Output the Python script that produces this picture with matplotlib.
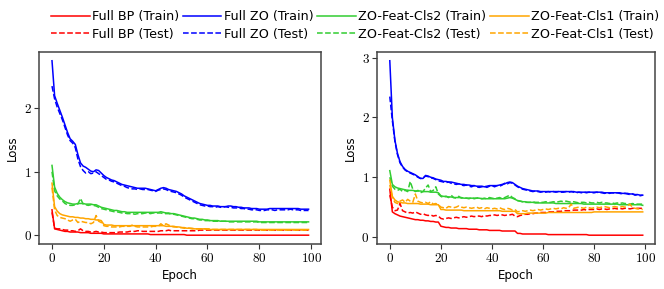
"""
loss_curves.py - train/test loss of full BP, full ZO and the two ZO-Feat variants.
"""
import matplotlib
matplotlib.use('Agg')
import matplotlib.pyplot as plt
from matplotlib.ticker import FuncFormatter

plt.rcParams['mathtext.fontset'] = 'cm'
plt.rcParams['font.family'] = 'DejaVu Sans'

epochs = list(range(100))

# ---- left panel ----
l_bp_train = [0.40, 0.10, 0.09, 0.08, 0.07, 0.06, 0.06, 0.05, 0.05, 0.05,
              0.05, 0.04, 0.04, 0.04, 0.04, 0.03, 0.03, 0.03, 0.03, 0.03,
              0.02, 0.02, 0.02, 0.02, 0.02, 0.02, 0.02, 0.02, 0.02, 0.02,
              0.02, 0.02, 0.02, 0.02, 0.02, 0.02, 0.02, 0.02, 0.01, 0.01,
              0.01, 0.01, 0.01, 0.01, 0.01, 0.01, 0.01, 0.01, 0.01, 0.01,
              0.01, 0.01, 0.00, 0.00, 0.00, 0.00, 0.00, 0.00, 0.00, 0.00,
              0.00, 0.00, 0.00, 0.00, 0.00, 0.00, 0.00, 0.00, 0.00, 0.00,
              0.00, 0.00, 0.00, 0.00, 0.00, 0.00, 0.00, 0.00, 0.00, 0.00,
              0.00, 0.00, 0.00, 0.00, 0.00, 0.00, 0.00, 0.00, 0.00, 0.00,
              0.00, 0.00, 0.00, 0.00, 0.00, 0.00, 0.00, 0.00, 0.00, 0.00]
l_bp_test = [0.36, 0.11, 0.10, 0.10, 0.09, 0.08, 0.08, 0.07, 0.07, 0.06,
             0.07, 0.10, 0.07, 0.06, 0.06, 0.05, 0.05, 0.06, 0.05, 0.05,
             0.04, 0.04, 0.04, 0.04, 0.04, 0.04, 0.05, 0.05, 0.05, 0.05,
             0.06, 0.06, 0.06, 0.07, 0.07, 0.06, 0.06, 0.06, 0.06, 0.06,
             0.06, 0.06, 0.07, 0.07, 0.07, 0.08, 0.07, 0.07, 0.07, 0.07,
             0.07, 0.07, 0.07, 0.07, 0.07, 0.07, 0.07, 0.08, 0.08, 0.08,
             0.08, 0.08, 0.08, 0.08, 0.08, 0.08, 0.08, 0.08, 0.08, 0.08,
             0.08, 0.08, 0.08, 0.08, 0.08, 0.08, 0.08, 0.08, 0.08, 0.08,
             0.08, 0.08, 0.08, 0.08, 0.08, 0.08, 0.08, 0.08, 0.08, 0.08,
             0.08, 0.08, 0.08, 0.08, 0.08, 0.08, 0.08, 0.08, 0.08, 0.08]
l_zo_train = [2.75, 2.20, 2.08, 1.97, 1.86, 1.74, 1.62, 1.52, 1.48, 1.43,
              1.27, 1.14, 1.09, 1.07, 1.04, 1.01, 1.00, 1.03, 1.02, 0.98,
              0.94, 0.91, 0.89, 0.87, 0.86, 0.84, 0.82, 0.80, 0.79, 0.78,
              0.77, 0.76, 0.75, 0.74, 0.74, 0.74, 0.74, 0.73, 0.72, 0.71,
              0.70, 0.72, 0.74, 0.75, 0.74, 0.72, 0.71, 0.70, 0.69, 0.67,
              0.65, 0.62, 0.60, 0.58, 0.56, 0.54, 0.52, 0.50, 0.49, 0.48,
              0.47, 0.47, 0.46, 0.46, 0.46, 0.45, 0.45, 0.45, 0.46, 0.46,
              0.45, 0.45, 0.44, 0.44, 0.43, 0.43, 0.43, 0.42, 0.42, 0.42,
              0.41, 0.41, 0.41, 0.41, 0.42, 0.42, 0.42, 0.42, 0.42, 0.42,
              0.42, 0.42, 0.42, 0.42, 0.42, 0.42, 0.41, 0.41, 0.41, 0.41]
l_zo_test = [2.35, 2.15, 2.02, 1.92, 1.82, 1.70, 1.58, 1.49, 1.45, 1.38,
             1.20, 1.08, 1.02, 0.98, 1.00, 0.97, 0.98, 1.00, 0.97, 0.94,
             0.91, 0.88, 0.87, 0.85, 0.84, 0.82, 0.80, 0.78, 0.77, 0.75,
             0.74, 0.73, 0.73, 0.72, 0.73, 0.72, 0.72, 0.72, 0.71, 0.70,
             0.69, 0.71, 0.72, 0.73, 0.72, 0.70, 0.69, 0.68, 0.67, 0.65,
             0.63, 0.60, 0.58, 0.56, 0.54, 0.52, 0.50, 0.48, 0.47, 0.46,
             0.46, 0.45, 0.45, 0.44, 0.45, 0.44, 0.44, 0.45, 0.44, 0.44,
             0.43, 0.43, 0.43, 0.42, 0.42, 0.41, 0.41, 0.40, 0.40, 0.40,
             0.39, 0.39, 0.39, 0.40, 0.40, 0.40, 0.39, 0.40, 0.40, 0.40,
             0.40, 0.40, 0.41, 0.40, 0.40, 0.40, 0.39, 0.39, 0.39, 0.39]
l_cls2_train = [1.10, 0.76, 0.66, 0.60, 0.56, 0.53, 0.51, 0.50, 0.49, 0.49,
                0.50, 0.50, 0.50, 0.49, 0.49, 0.49, 0.48, 0.48, 0.46, 0.44,
                0.43, 0.42, 0.41, 0.40, 0.39, 0.39, 0.38, 0.37, 0.37, 0.36,
                0.36, 0.36, 0.36, 0.36, 0.36, 0.36, 0.36, 0.36, 0.36, 0.36,
                0.36, 0.36, 0.37, 0.36, 0.35, 0.35, 0.34, 0.34, 0.33, 0.32,
                0.31, 0.30, 0.29, 0.28, 0.27, 0.27, 0.26, 0.25, 0.25, 0.24,
                0.24, 0.23, 0.23, 0.23, 0.23, 0.22, 0.22, 0.22, 0.22, 0.22,
                0.22, 0.22, 0.22, 0.22, 0.22, 0.22, 0.22, 0.22, 0.22, 0.22,
                0.21, 0.21, 0.21, 0.21, 0.21, 0.21, 0.21, 0.21, 0.21, 0.21,
                0.21, 0.21, 0.21, 0.21, 0.21, 0.21, 0.21, 0.21, 0.21, 0.21]
l_cls2_test = [1.00, 0.70, 0.62, 0.57, 0.54, 0.50, 0.48, 0.47, 0.47, 0.48,
               0.49, 0.58, 0.49, 0.48, 0.47, 0.48, 0.47, 0.46, 0.44, 0.42,
               0.41, 0.40, 0.39, 0.38, 0.37, 0.37, 0.36, 0.35, 0.35, 0.34,
               0.34, 0.34, 0.33, 0.34, 0.34, 0.34, 0.35, 0.35, 0.34, 0.35,
               0.35, 0.35, 0.35, 0.34, 0.34, 0.34, 0.33, 0.33, 0.32, 0.31,
               0.30, 0.29, 0.28, 0.27, 0.26, 0.26, 0.25, 0.24, 0.24, 0.23,
               0.23, 0.23, 0.22, 0.22, 0.22, 0.22, 0.22, 0.22, 0.21, 0.21,
               0.21, 0.21, 0.21, 0.21, 0.21, 0.21, 0.21, 0.21, 0.21, 0.21,
               0.20, 0.20, 0.20, 0.20, 0.20, 0.20, 0.20, 0.20, 0.20, 0.20,
               0.20, 0.20, 0.20, 0.20, 0.20, 0.20, 0.20, 0.20, 0.20, 0.20]
l_cls1_train = [0.82, 0.45, 0.38, 0.34, 0.32, 0.31, 0.30, 0.29, 0.29, 0.28,
                0.28, 0.27, 0.27, 0.26, 0.26, 0.25, 0.25, 0.24, 0.24, 0.23,
                0.17, 0.16, 0.16, 0.16, 0.15, 0.15, 0.15, 0.15, 0.15, 0.15,
                0.15, 0.15, 0.15, 0.15, 0.15, 0.15, 0.15, 0.15, 0.15, 0.15,
                0.15, 0.15, 0.15, 0.15, 0.14, 0.14, 0.14, 0.14, 0.13, 0.13,
                0.12, 0.12, 0.11, 0.11, 0.11, 0.10, 0.10, 0.10, 0.10, 0.10,
                0.09, 0.09, 0.09, 0.09, 0.09, 0.09, 0.09, 0.09, 0.09, 0.09,
                0.09, 0.09, 0.09, 0.09, 0.09, 0.09, 0.09, 0.09, 0.09, 0.09,
                0.09, 0.09, 0.09, 0.09, 0.09, 0.09, 0.09, 0.09, 0.09, 0.09,
                0.09, 0.09, 0.09, 0.09, 0.09, 0.09, 0.09, 0.09, 0.09, 0.09]
l_cls1_test = [0.75, 0.40, 0.31, 0.28, 0.27, 0.26, 0.24, 0.22, 0.24, 0.25,
               0.20, 0.22, 0.21, 0.20, 0.20, 0.18, 0.20, 0.31, 0.22, 0.20,
               0.15, 0.14, 0.14, 0.13, 0.13, 0.13, 0.13, 0.14, 0.14, 0.14,
               0.14, 0.16, 0.14, 0.13, 0.13, 0.13, 0.13, 0.13, 0.13, 0.14,
               0.14, 0.14, 0.18, 0.15, 0.18, 0.16, 0.14, 0.13, 0.13, 0.12,
               0.12, 0.11, 0.11, 0.11, 0.10, 0.10, 0.10, 0.10, 0.10, 0.10,
               0.10, 0.10, 0.09, 0.09, 0.09, 0.09, 0.09, 0.09, 0.09, 0.09,
               0.09, 0.09, 0.09, 0.09, 0.09, 0.09, 0.09, 0.09, 0.09, 0.09,
               0.08, 0.08, 0.08, 0.08, 0.08, 0.08, 0.08, 0.08, 0.08, 0.08,
               0.08, 0.08, 0.08, 0.08, 0.08, 0.08, 0.08, 0.08, 0.08, 0.08]

# ---- right panel ----
r_bp_train = [0.80, 0.42, 0.39, 0.37, 0.35, 0.34, 0.33, 0.32, 0.31, 0.30,
              0.29, 0.29, 0.28, 0.28, 0.27, 0.27, 0.26, 0.26, 0.25, 0.25,
              0.18, 0.17, 0.16, 0.16, 0.15, 0.15, 0.15, 0.14, 0.14, 0.14,
              0.14, 0.13, 0.13, 0.13, 0.13, 0.12, 0.12, 0.12, 0.12, 0.11,
              0.11, 0.11, 0.11, 0.11, 0.10, 0.10, 0.10, 0.10, 0.10, 0.10,
              0.06, 0.06, 0.05, 0.05, 0.05, 0.05, 0.05, 0.05, 0.05, 0.05,
              0.05, 0.05, 0.04, 0.04, 0.04, 0.04, 0.04, 0.04, 0.04, 0.04,
              0.04, 0.04, 0.04, 0.04, 0.04, 0.04, 0.04, 0.04, 0.03, 0.03,
              0.03, 0.03, 0.03, 0.03, 0.03, 0.03, 0.03, 0.03, 0.03, 0.03,
              0.03, 0.03, 0.03, 0.03, 0.03, 0.03, 0.03, 0.03, 0.03, 0.03]
r_bp_test = [0.70, 0.50, 0.44, 0.45, 0.56, 0.44, 0.42, 0.40, 0.41, 0.40,
             0.42, 0.40, 0.38, 0.39, 0.37, 0.36, 0.37, 0.35, 0.36, 0.35,
             0.31, 0.30, 0.31, 0.32, 0.31, 0.32, 0.33, 0.32, 0.33, 0.34,
             0.33, 0.34, 0.35, 0.34, 0.35, 0.35, 0.34, 0.36, 0.35, 0.36,
             0.36, 0.37, 0.36, 0.37, 0.37, 0.36, 0.37, 0.37, 0.38, 0.35,
             0.34, 0.36, 0.37, 0.38, 0.38, 0.39, 0.39, 0.40, 0.40, 0.41,
             0.41, 0.41, 0.42, 0.42, 0.42, 0.43, 0.43, 0.43, 0.44, 0.44,
             0.44, 0.44, 0.45, 0.45, 0.45, 0.45, 0.46, 0.45, 0.46, 0.46,
             0.46, 0.47, 0.46, 0.47, 0.47, 0.46, 0.47, 0.47, 0.48, 0.47,
             0.48, 0.47, 0.48, 0.48, 0.47, 0.48, 0.48, 0.48, 0.48, 0.48]
r_zo_train = [2.95, 2.00, 1.62, 1.40, 1.26, 1.18, 1.13, 1.10, 1.08, 1.06,
              1.04, 1.01, 0.98, 0.98, 1.03, 1.02, 1.00, 0.99, 0.97, 0.96,
              0.95, 0.93, 0.93, 0.92, 0.92, 0.91, 0.90, 0.89, 0.88, 0.88,
              0.87, 0.87, 0.86, 0.86, 0.85, 0.85, 0.85, 0.84, 0.85, 0.86,
              0.86, 0.86, 0.86, 0.87, 0.88, 0.89, 0.91, 0.92, 0.91, 0.88,
              0.85, 0.83, 0.81, 0.80, 0.79, 0.78, 0.77, 0.77, 0.77, 0.76,
              0.76, 0.76, 0.76, 0.76, 0.76, 0.76, 0.76, 0.76, 0.76, 0.76,
              0.76, 0.76, 0.76, 0.75, 0.75, 0.75, 0.75, 0.75, 0.75, 0.75,
              0.75, 0.75, 0.75, 0.75, 0.74, 0.74, 0.74, 0.74, 0.74, 0.74,
              0.74, 0.73, 0.73, 0.73, 0.72, 0.72, 0.71, 0.71, 0.70, 0.70]
r_zo_test = [2.35, 1.95, 1.60, 1.38, 1.24, 1.17, 1.12, 1.09, 1.07, 1.05,
             1.03, 1.00, 0.98, 0.99, 1.02, 1.01, 0.99, 0.98, 0.96, 0.94,
             0.93, 0.92, 0.91, 0.92, 0.90, 0.89, 0.88, 0.89, 0.87, 0.86,
             0.87, 0.85, 0.84, 0.86, 0.84, 0.83, 0.84, 0.85, 0.83, 0.85,
             0.86, 0.84, 0.86, 0.85, 0.87, 0.90, 0.89, 0.91, 0.90, 0.87,
             0.84, 0.82, 0.80, 0.79, 0.78, 0.77, 0.76, 0.77, 0.76, 0.75,
             0.76, 0.75, 0.76, 0.75, 0.76, 0.75, 0.76, 0.75, 0.75, 0.76,
             0.75, 0.76, 0.75, 0.74, 0.75, 0.74, 0.75, 0.74, 0.75, 0.74,
             0.74, 0.75, 0.74, 0.74, 0.73, 0.74, 0.73, 0.74, 0.73, 0.74,
             0.73, 0.72, 0.73, 0.72, 0.71, 0.72, 0.70, 0.71, 0.69, 0.70]
r_cls2_train = [1.11, 0.88, 0.84, 0.82, 0.81, 0.80, 0.79, 0.78, 0.78, 0.78,
                0.77, 0.77, 0.77, 0.76, 0.76, 0.76, 0.75, 0.75, 0.75, 0.74,
                0.69, 0.68, 0.68, 0.67, 0.67, 0.66, 0.66, 0.66, 0.66, 0.65,
                0.65, 0.65, 0.65, 0.65, 0.65, 0.65, 0.64, 0.64, 0.64, 0.64,
                0.64, 0.64, 0.64, 0.64, 0.64, 0.64, 0.65, 0.66, 0.65, 0.63,
                0.61, 0.60, 0.59, 0.59, 0.58, 0.58, 0.58, 0.57, 0.57, 0.57,
                0.57, 0.57, 0.57, 0.57, 0.57, 0.56, 0.56, 0.56, 0.56, 0.56,
                0.56, 0.56, 0.56, 0.56, 0.56, 0.56, 0.55, 0.55, 0.55, 0.55,
                0.55, 0.55, 0.55, 0.55, 0.55, 0.55, 0.55, 0.55, 0.55, 0.55,
                0.54, 0.54, 0.54, 0.54, 0.54, 0.54, 0.54, 0.54, 0.54, 0.53]
r_cls2_test = [1.00, 0.85, 0.80, 0.78, 0.80, 0.76, 0.78, 0.76, 0.93, 0.80,
               0.76, 0.78, 0.74, 0.76, 0.82, 0.87, 0.76, 0.78, 0.84, 0.72,
               0.68, 0.66, 0.68, 0.66, 0.70, 0.66, 0.65, 0.68, 0.65, 0.66,
               0.65, 0.64, 0.66, 0.64, 0.65, 0.66, 0.64, 0.65, 0.64, 0.66,
               0.65, 0.64, 0.65, 0.66, 0.64, 0.66, 0.68, 0.70, 0.66, 0.64,
               0.61, 0.60, 0.59, 0.58, 0.58, 0.58, 0.59, 0.58, 0.58, 0.58,
               0.58, 0.59, 0.58, 0.58, 0.59, 0.58, 0.59, 0.60, 0.59, 0.60,
               0.59, 0.58, 0.59, 0.58, 0.57, 0.58, 0.58, 0.57, 0.58, 0.57,
               0.57, 0.58, 0.57, 0.58, 0.57, 0.57, 0.56, 0.57, 0.56, 0.57,
               0.56, 0.57, 0.56, 0.56, 0.55, 0.56, 0.55, 0.55, 0.55, 0.55]
r_cls1_train = [0.95, 0.68, 0.62, 0.59, 0.58, 0.57, 0.57, 0.56, 0.56, 0.56,
                0.56, 0.56, 0.55, 0.55, 0.55, 0.55, 0.54, 0.54, 0.54, 0.54,
                0.46, 0.46, 0.45, 0.45, 0.45, 0.45, 0.45, 0.45, 0.45, 0.44,
                0.44, 0.44, 0.44, 0.44, 0.44, 0.44, 0.44, 0.44, 0.44, 0.44,
                0.44, 0.44, 0.44, 0.44, 0.43, 0.43, 0.43, 0.43, 0.43, 0.43,
                0.39, 0.39, 0.39, 0.39, 0.40, 0.40, 0.40, 0.40, 0.40, 0.40,
                0.40, 0.40, 0.41, 0.41, 0.41, 0.41, 0.41, 0.41, 0.41, 0.41,
                0.41, 0.41, 0.41, 0.41, 0.41, 0.41, 0.41, 0.41, 0.41, 0.41,
                0.42, 0.42, 0.42, 0.42, 0.42, 0.42, 0.42, 0.42, 0.42, 0.42,
                0.42, 0.42, 0.42, 0.42, 0.42, 0.42, 0.42, 0.42, 0.42, 0.42]
r_cls1_test = [0.87, 0.66, 0.58, 0.56, 0.60, 0.62, 0.58, 0.63, 0.60, 0.58,
               0.72, 0.60, 0.58, 0.57, 0.58, 0.56, 0.59, 0.55, 0.56, 0.54,
               0.50, 0.49, 0.48, 0.51, 0.50, 0.49, 0.50, 0.52, 0.50, 0.49,
               0.50, 0.49, 0.48, 0.49, 0.50, 0.48, 0.49, 0.47, 0.49, 0.48,
               0.47, 0.48, 0.47, 0.49, 0.47, 0.46, 0.48, 0.47, 0.45, 0.46,
               0.42, 0.43, 0.44, 0.43, 0.44, 0.45, 0.44, 0.45, 0.46, 0.45,
               0.46, 0.47, 0.46, 0.47, 0.48, 0.47, 0.48, 0.47, 0.49, 0.48,
               0.49, 0.55, 0.48, 0.49, 0.50, 0.49, 0.48, 0.50, 0.49, 0.48,
               0.49, 0.50, 0.49, 0.50, 0.51, 0.50, 0.49, 0.50, 0.51, 0.50,
               0.50, 0.51, 0.50, 0.52, 0.55, 0.49, 0.48, 0.47, 0.47, 0.46]

methods = ['Full BP', 'Full ZO', 'ZO-Feat-Cls2', 'ZO-Feat-Cls1']
colors = ['red', 'blue', 'limegreen', 'orange']
left = [(l_bp_train, l_bp_test), (l_zo_train, l_zo_test),
        (l_cls2_train, l_cls2_test), (l_cls1_train, l_cls1_test)]
right = [(r_bp_train, r_bp_test), (r_zo_train, r_zo_test),
         (r_cls2_train, r_cls2_test), (r_cls1_train, r_cls1_test)]

fig = plt.figure(figsize=(6.64, 2.89), dpi=100)
ax1 = fig.add_axes([0.059, 0.156, 0.425, 0.664])
ax2 = fig.add_axes([0.568, 0.156, 0.419, 0.664])

handles = []
for ax, panel in [(ax1, left), (ax2, right)]:
    for name, c, (tr, te) in zip(methods, colors, panel):
        h1, = ax.plot(epochs, tr, color=c, lw=1.1, label=name + ' (Train)')
        h2, = ax.plot(epochs, te, color=c, lw=1.1, ls='--', label=name + ' (Test)')
        if ax is ax1:
            handles += [h1, h2]
    ax.set_xlabel('Epoch', fontsize=8.5, labelpad=3)
    ax.set_ylabel('Loss', fontsize=8.5, labelpad=3)
    ax.set_xticks([0, 20, 40, 60, 80, 100])
    ax.xaxis.set_major_formatter(FuncFormatter(lambda v, p: '$%d$' % v))
    ax.yaxis.set_major_formatter(FuncFormatter(lambda v, p: '$%d$' % v))
    ax.tick_params(labelsize=9.5, length=3.5, width=0.8, colors='#333333',
                   labelcolor='black', pad=2)
    for s in ax.spines.values():
        s.set_color('#444444')
        s.set_linewidth(1.1)

ax1.set_yticks([0, 1, 2])
ax2.set_yticks([0, 1, 2, 3])

fig.legend(handles=handles, loc='upper center', bbox_to_anchor=(0.535, 1.005),
           ncol=4, frameon=False, fontsize=9.2, handlelength=3.0,
           handletextpad=0.2, columnspacing=0.3, labelspacing=0.35)

fig.savefig('out.png', dpi=100)
